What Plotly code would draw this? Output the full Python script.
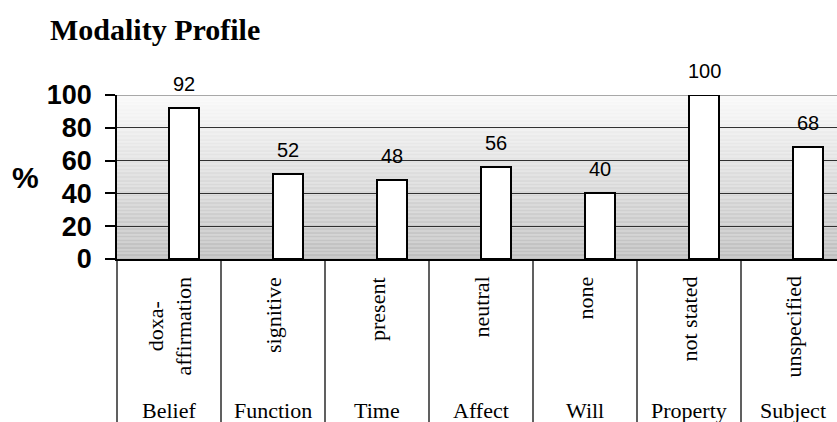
import plotly.graph_objects as go

# Modality dimensions, their observed values and the percentage shares
groups = ["Belief", "Function", "Time", "Affect", "Will", "Property", "Subject"]
values_lbl = ["doxa-<br>affirmation", "signitive", "present", "neutral", "none", "not stated", "unspecified"]
percent = [92, 52, 48, 56, 40, 100, 68]
y_ticks = [0, 20, 40, 60, 80, 100]

W, H = 837, 422
M_L, M_R, M_T, M_B = 117, 0, 95, 163
cat_px = 104          # pixel width of one category slot
bar_px = 30           # pixel width of a bar
plot_w = W - M_L - M_R
x_range = [-0.5, -0.5 + plot_w / cat_px]

fig = go.Figure()

fig.add_trace(go.Bar(
    x=groups, y=percent,
    offset=0, width=bar_px / cat_px,
    marker=dict(color="white", line=dict(color="black", width=2)),
    cliponaxis=False,
    hoverinfo="skip",
))

# vertical grey gradient behind the bars
n_bands = 120
top_c, bot_c = 250, 190
for i in range(n_bands):
    f = (i + 0.5) / n_bands
    c = round(bot_c + (top_c - bot_c) * f)
    fig.add_shape(type="rect", xref="paper", yref="y", layer="below",
                  x0=0, x1=1, y0=100 * i / n_bands, y1=100 * (i + 1) / n_bands,
                  fillcolor=f"rgb({c},{c},{c})", line=dict(width=0))

# top border of the plot area (kept under the bars)
fig.add_shape(type="line", xref="paper", yref="y", x0=0, x1=1, y0=100, y1=100,
              layer="below", line=dict(color="#8c8c8c", width=1.5))

annotations = []
for g, lbl, v in zip(groups, values_lbl, percent):
    # value above each bar
    annotations.append(dict(
        x=g, y=v, xref="x", yref="y", text=str(v), showarrow=False,
        xanchor="center", yanchor="bottom", xshift=bar_px / 2, yshift=11,
        font=dict(family="Arial, Liberation Sans", size=20, color="black"),
    ))
    # rotated modality value under the axis
    annotations.append(dict(
        x=g, y=0, xref="x", yref="y", text=lbl, showarrow=False,
        textangle=-90, xanchor="center", yanchor="top", align="center",
        yshift=-16,
        font=dict(family="Liberation Serif, Times New Roman", size=22, color="black"),
    ))
    # dimension name at the bottom
    annotations.append(dict(
        x=g, y=0, xref="x", yref="paper", text=g, showarrow=False,
        xanchor="center", yanchor="middle", yshift=-151,
        font=dict(family="Liberation Serif, Times New Roman", size=22, color="black"),
    ))

# the % sign sits in the left margin, level with the middle of the axis
annotations.append(dict(
    x=(25 - M_L) / plot_w, y=0.5, xref="paper", yref="paper",
    text="<b>%</b>", showarrow=False, xanchor="center", yanchor="middle",
    font=dict(family="Arial, Liberation Sans", size=30, color="black"),
))

fig.update_layout(
    width=W, height=H,
    margin=dict(l=M_L, r=M_R, t=M_T, b=M_B, pad=0),
    paper_bgcolor="white", plot_bgcolor="white",
    showlegend=False,
    title=dict(text="<b>Modality Profile</b>", x=50 / W, xanchor="left",
               y=1 - 29 / H, yanchor="middle",
               font=dict(family="Liberation Serif, Times New Roman", size=30, color="black")),
    annotations=annotations,
    bargap=0,
)

fig.update_xaxes(
    type="category", range=x_range, tickson="boundaries",
    showticklabels=False, ticks="outside", ticklen=M_B, tickwidth=1.5, tickcolor="#606060",
    showgrid=False, showline=True, linecolor="black", linewidth=1.5, zeroline=False,
)
fig.update_yaxes(
    range=[0, 100], tickvals=y_ticks, ticks="outside", ticklen=10, tickcolor="black",
    tickwidth=1.5, showline=True, linecolor="black", linewidth=1.5,
    showgrid=True, gridcolor="#303030", gridwidth=1, zeroline=False,
    ticklabelstandoff=8,
    tickfont=dict(family="Arial, Liberation Sans", size=27, color="black", weight="bold"),
)

fig.write_html("out.html")
